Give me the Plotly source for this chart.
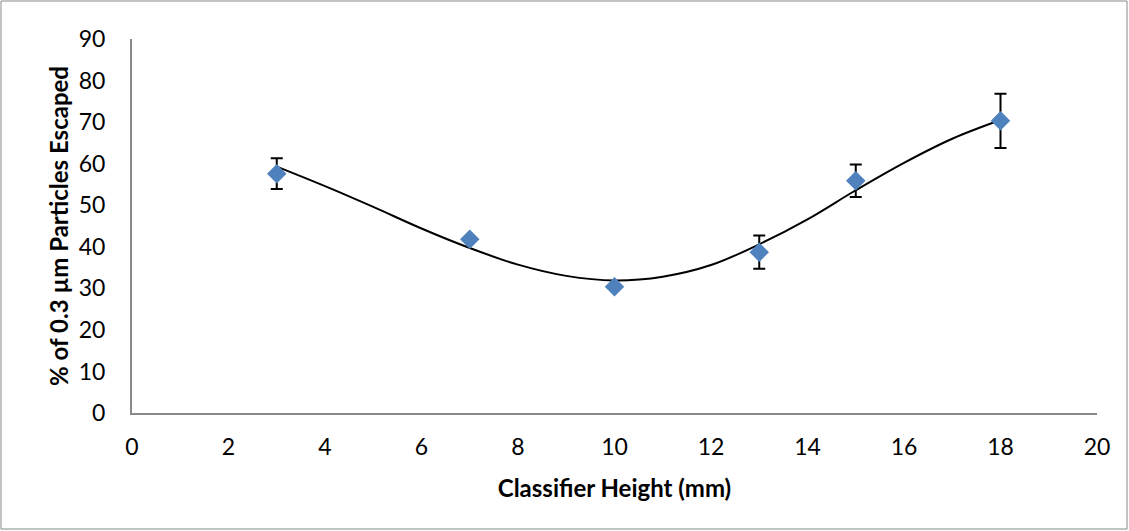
import plotly.graph_objects as go

heights = [3, 7, 10, 13, 15, 18]
escaped = [57.6, 41.8, 30.4, 38.7, 55.9, 70.3]
errors = [3.7, 0, 0, 4.0, 3.9, 6.5]

# trendline
trend_x = [3, 4, 5, 6, 7, 8, 9, 10, 11, 12, 13, 14, 15, 16, 17, 18]
trend_y = [59.3, 54.6, 49.6, 44.4, 39.7, 35.7, 33.0, 31.9, 32.8, 35.6, 40.6, 46.6, 53.6, 60.2, 66.0, 70.5]

x_ticks = list(range(0, 21, 2))
y_ticks = list(range(0, 91, 10))

fig = go.Figure()
fig.add_trace(go.Scatter(x=trend_x, y=trend_y, mode="lines",
                         line=dict(color="black", width=2, shape="spline", smoothing=1.0),
                         showlegend=False, hoverinfo="skip"))
fig.add_trace(go.Scatter(x=heights, y=escaped, mode="markers",
                         marker=dict(symbol="diamond", size=15, color="#4F81BD"),
                         error_y=dict(type="data", array=errors, visible=True,
                                      color="black", thickness=2, width=6),
                         showlegend=False))

L, R, T, B = 132, 32, 39, 118
W, H = 1129, 531
pw = W - L - R
ph = H - T - B

fig.update_layout(
    width=W, height=H,
    margin=dict(l=L, r=R, t=T, b=B, autoexpand=False),
    paper_bgcolor="white", plot_bgcolor="white",
    font=dict(family="Lato, Open Sans, sans-serif", size=23, color="black"),
    xaxis=dict(range=[0, 20], tickvals=x_ticks, showgrid=False, zeroline=False,
               showline=True, linecolor="#888888", linewidth=2, automargin=False,
               ticks="outside", ticklen=12, tickcolor="rgba(0,0,0,0)",
               title=dict(text="<b>Classifier Height (mm)</b>", font=dict(size=24),
                          standoff=22)),
    yaxis=dict(range=[0, 90], tickvals=y_ticks, showgrid=False, zeroline=False,
               showline=True, linecolor="#888888", linewidth=2, automargin=False,
               ticks="outside", ticklen=20, tickcolor="rgba(0,0,0,0)",
               title=dict(text="<b>% of 0.3 µm Particles Escaped</b>", font=dict(size=24),
                          standoff=3)),
    shapes=[dict(type="rect", xref="paper", yref="paper",
                 x0=(1 - L) / pw, x1=(W - 2 - L) / pw,
                 y0=-(B - 2) / ph, y1=1 + (T - 1) / ph,
                 line=dict(color="#888888", width=1), fillcolor="rgba(0,0,0,0)",
                 layer="below")],
)

fig.write_html("out.html", config={"displayModeBar": False},
               post_script="document.body.style.margin='0';document.body.style.overflow='hidden';")
